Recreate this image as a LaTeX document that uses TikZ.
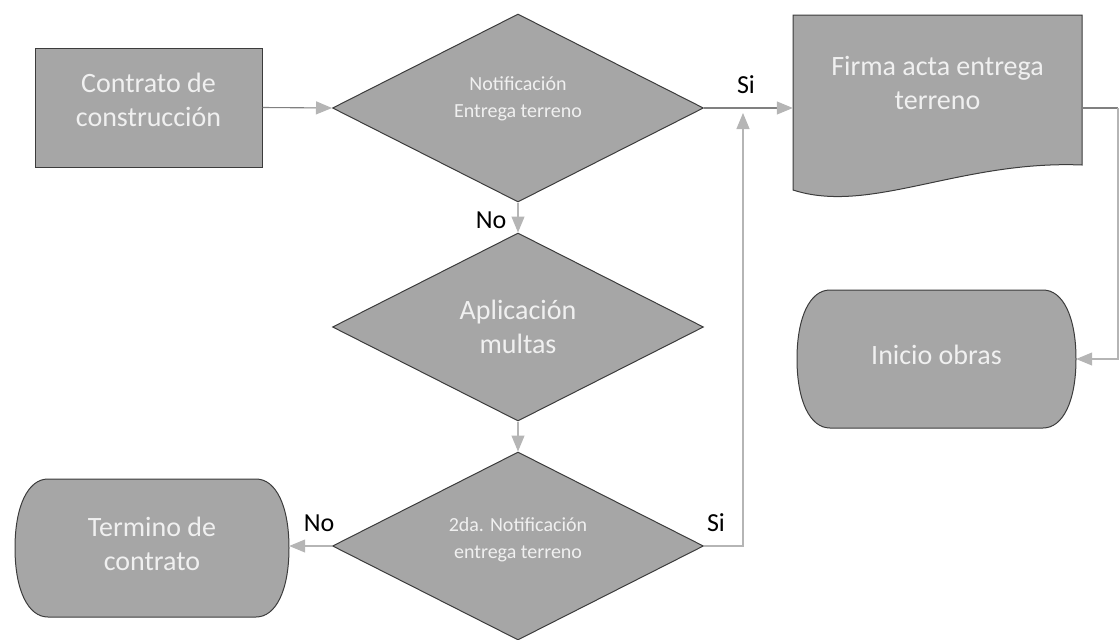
\documentclass[tikz,border=0pt]{standalone}
\usepackage{fontspec}
\setmainfont{Carlito}
\usetikzlibrary{shapes.geometric,arrows.meta,calc}
\definecolor{boxfill}{HTML}{A6A6A6}
\definecolor{boxline}{HTML}{3C3C3C}
\definecolor{txt}{HTML}{F0F0F0}
\definecolor{darkln}{HTML}{808080}
\definecolor{lightln}{HTML}{B5B5B5}
\begin{document}
\begin{tikzpicture}[x=1pt,y=-1pt,
  shapebox/.style={fill=boxfill,draw=boxline,line width=1pt},
  nodetext/.style={text=txt,font=\fontsize{28}{34}\selectfont,align=center},
  smalltext/.style={text=txt,font=\fontsize{20}{27}\selectfont,align=center},
  decision/.style={shape=diamond,shapebox,aspect=2,minimum width=371pt,minimum height=188pt,inner sep=0pt},
  tip/.style={-{Triangle[length=16pt,width=13pt,color=lightln]}},
  darkline/.style={draw=darkln,line width=1.1pt},
  lightline/.style={draw=lightln,line width=1.1pt},
  lbl/.style={font=\fontsize{26}{30}\selectfont,text=black}]
\useasboundingbox (0,0) rectangle (1120,640);

% process box
\node[rectangle,shapebox,minimum width=227pt,minimum height=119pt,inner sep=0pt] (contrato) at (148.5,107.5) {};
\node[nodetext] (contratot) at (148.5,100) {Contrato de\\construcción};

% decisions
\node[decision] (d1) at (518,108) {};
\node[smalltext] (d1t) at (518,99) {Notificación\\Entrega terreno};
\node[decision,nodetext] (d2) at (518,327) {Aplicación\\multas};
\node[decision] (d3) at (518,546) {};
\node[smalltext] (d3t) at (518,540) {2da. Notificación\\entrega terreno};

% document shape
\path[shapebox] (793,15) -- (1082,15) -- (1082,165) .. controls (960,160) and (870,215) .. (793,190) -- cycle;
\node[minimum width=289pt,minimum height=150pt,inner sep=0pt] (firma) at (937.5,90) {};
\node[nodetext] (firmat) at (937.5,83) {Firma acta entrega\\terreno};

% terminators with elliptic ends
\path[shapebox] (830,290) -- (1043,290)
  .. controls (1063,290) and (1076,317) .. (1076,359)
  .. controls (1076,401) and (1063,428) .. (1043,428)
  -- (830,428)
  .. controls (810,428) and (797,401) .. (797,359)
  .. controls (797,317) and (810,290) .. (830,290) -- cycle;
\node[minimum width=279pt,minimum height=138pt,inner sep=0pt] (inicio) at (936.5,359) {};
\node[nodetext] (iniciot) at (936.5,355) {Inicio obras};

\path[shapebox] (48,479) -- (256,479)
  .. controls (276,479) and (289,506) .. (289,548)
  .. controls (289,590) and (276,617) .. (256,617)
  -- (48,617)
  .. controls (28,617) and (15,590) .. (15,548)
  .. controls (15,506) and (28,479) .. (48,479) -- cycle;
\node[minimum width=274pt,minimum height=138pt,inner sep=0pt] (termino) at (152,548) {};
\node[nodetext] (terminot) at (152,544) {Termino de\\contrato};

% connectors
\draw[darkline,tip] (contrato.east) -- (d1.west);
\draw[darkline,tip] (d1.east) -- (firma.west |- d1.east);
\draw[lightline,tip] (d1.south) -- (d2.north);
\draw[lightline,tip] (d2.south) -- (d3.north);
\draw[lightline,tip] (d3.west) -- (d3.west -| termino.east);
\coordinate (jt) at (743,113);
\draw[lightline,tip] (d3.east) -| (jt);
\coordinate (rc) at (1118,108);
\draw[darkline] (firma.east |- rc) -- (rc);
\draw[lightline,tip] (rc) |- (inicio.east);

% labels
\node[lbl] (si1) at (746,85) {Si};
\node[lbl] (no1) at (491,220) {No};
\node[lbl] (si2) at (716,523) {Si};
\node[lbl] (no2) at (319,523) {No};
\end{tikzpicture}
\end{document}
